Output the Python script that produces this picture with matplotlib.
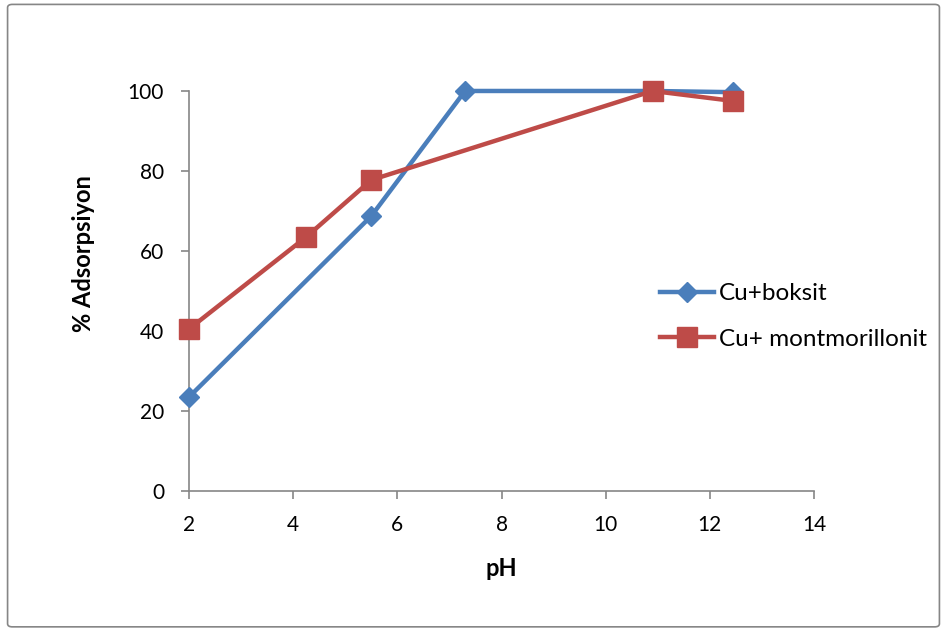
import matplotlib
matplotlib.use("Agg")
from matplotlib import pyplot as plt
from matplotlib.patches import FancyBboxPatch

plt.rcParams['font.family'] = ['Lato', 'DejaVu Sans']

# data
ph_boksit = [2.0, 5.5, 7.3, 10.9, 12.45]
ads_boksit = [23.5, 68.75, 100.0, 100.0, 99.7]
ph_mont = [2.0, 4.25, 5.5, 10.9, 12.45]
ads_mont = [40.5, 63.5, 77.75, 100.0, 97.5]

blue = "#4A7EBB"
red = "#BE4B48"
grey = "#868686"

fig = plt.figure(figsize=(9.47, 6.3), dpi=100)
# outer frame of the chart
fig.patches.append(FancyBboxPatch((0.008, 0.005), 0.984, 0.988, boxstyle="round,pad=0,rounding_size=0.005",
                                  transform=fig.transFigure, fill=False, edgecolor=grey, linewidth=1.2))

ax = fig.add_axes([0.1996, 0.2206, 0.6600, 0.6350])
ax.plot(ph_boksit, ads_boksit, color=blue, linewidth=3.2, marker="D", markersize=10.5,
        markerfacecolor=blue, markeredgecolor=blue, clip_on=False, label="Cu+boksit", zorder=3)
ax.plot(ph_mont, ads_mont, color=red, linewidth=3.2, marker="s", markersize=14,
        markerfacecolor=red, markeredgecolor=red, clip_on=False, label="Cu+ montmorillonit", zorder=4)

ax.set_xlim(2, 14)
ax.set_ylim(0, 100)
ax.set_xticks(range(2, 15, 2))
ax.set_yticks(range(0, 101, 20))
for s in ["top", "right"]:
    ax.spines[s].set_visible(False)
for s in ["left", "bottom"]:
    ax.spines[s].set_color(grey)
    ax.spines[s].set_linewidth(1.2)
ax.tick_params(axis="both", colors=grey, length=6, width=1.2, labelsize=15, labelcolor="black")
ax.tick_params(axis="x", pad=11)
ax.tick_params(axis="y", pad=12)

ax.set_xlabel("pH", fontsize=17, fontweight="bold")
ax.set_ylabel("% Adsorpsiyon", fontsize=17, fontweight="bold")
ax.xaxis.set_label_coords(0.5, -0.165)
ax.yaxis.set_label_coords(-0.150, 0.5925)

ax.legend(loc="center left", bbox_to_anchor=(0.754, 0.436), frameon=False, fontsize=17.5,
          borderaxespad=0, borderpad=0, handlelength=2.2, handletextpad=0.2, labelspacing=1.0)

fig.savefig("out.png", dpi=100)
